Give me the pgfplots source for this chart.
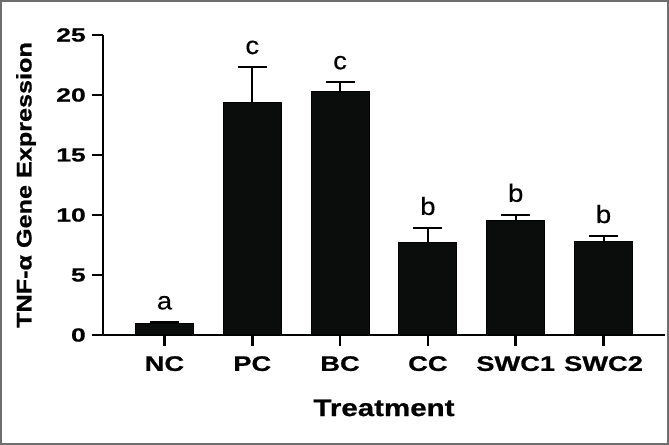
\documentclass[border=0pt]{standalone}
\usepackage{fontspec}
\setmainfont{Liberation Sans}
\newfontfamily\ytickfont[FakeStretch=1.4, BoldFeatures={FakeBold=0.8}]{Liberation Sans}
\newfontfamily\xtickfont[FakeStretch=1.3, BoldFeatures={FakeBold=0.8}]{Liberation Sans}
\newfontfamily\xlabfont[FakeStretch=1.23, BoldFeatures={FakeBold=0.8}]{Liberation Sans}
\newfontfamily\ylabfont[FakeStretch=1.2, BoldFeatures={FakeBold=0.8}]{Liberation Sans}
\newfontfamily\letfont[FakeStretch=1.1, FakeBold=0.3]{Liberation Sans}
\usepackage{pgfplots}
\pgfplotsset{compat=1.18}
\usepackage{pgfplotstable}

\definecolor{barblack}{HTML}{0B0C0C}
\definecolor{framegray}{HTML}{6E6E6E}

% mean, upper error, top of error bar, significance letter
\pgfplotstableread{
x lab  val   err  cap   grp
0 NC   0.97  0.08 1.05  a
1 PC   19.36 2.97 22.33 c
2 BC   20.33 0.73 21.06 c
3 CC   7.69  1.23 8.92  b
4 SWC1 9.52  0.50 10.02 b
5 SWC2 7.81  0.44 8.25  b
}\tnf

\begin{document}
\begin{tikzpicture}
\useasboundingbox (0,0) rectangle (669bp,445bp);
\draw[line width=1.6bp, framegray] (0.8bp,0.8bp) rectangle (668.2bp,444.2bp);
\begin{axis}[
  at={(103bp,110bp)}, anchor=south west,
  scale only axis, width=562bp, height=300bp,
  xmin=-0.7, xmax=5.7, ymin=0, ymax=25,
  axis x line*=bottom, axis y line*=left,
  axis line style={line width=2.6bp, black},
  clip=false,
  xtick={0,...,5},
  xticklabels from table={\tnf}{lab},
  ytick={0,5,...,25},
  tick align=outside,
  major tick length=11bp,
  tick style={line width=2.6bp, black},
  /pgf/number format/assume math mode=true,
  yticklabel style={font=\ytickfont\bfseries\fontsize{19bp}{19bp}\selectfont, inner sep=0pt, xshift=-6bp},
  xticklabel style={font=\xtickfont\bfseries\fontsize{21bp}{21bp}\selectfont, inner sep=0pt, yshift=-10bp},
  xlabel={Treatment},
  ylabel={TNF-α Gene Expression},
  xlabel style={font=\xlabfont\bfseries\fontsize{24bp}{24bp}\selectfont, inner sep=0pt,
    at={(axis description cs:0.5,-0.243)}, anchor=center},
  ylabel style={font=\ylabfont\bfseries\fontsize{21bp}{21bp}\selectfont, inner sep=0pt,
    at={(axis description cs:-0.137,0.5)}, anchor=center},
]
\addplot[ybar, bar width=58bp, fill=barblack, draw=black, line width=1bp,
  error bars/.cd, y dir=plus, y explicit,
  error bar style={line width=2bp, black},
  error mark options={rotate=90, line width=2bp, black, mark size=14.5bp}]
  table[x=x, y=val, y error=err] {\tnf};
\addplot[draw=none, mark=none, nodes near coords, point meta=explicit symbolic,
  nodes near coords style={anchor=base, yshift=13bp, inner sep=0pt,
    font=\letfont\fontsize{25bp}{25bp}\selectfont}]
  table[x=x, y=cap, meta=grp] {\tnf};
\end{axis}
\end{tikzpicture}
\end{document}
